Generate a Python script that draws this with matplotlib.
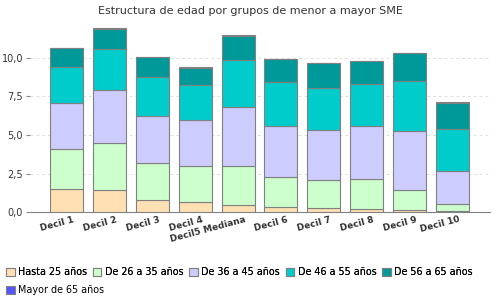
import matplotlib
matplotlib.use("Agg")
import matplotlib.pyplot as plt
import numpy as np
from matplotlib.transforms import ScaledTranslation

categories = ["Decil 1", "Decil 2", "Decil 3", "Decil 4", "Decil5 Mediana",
              "Decil 6", "Decil 7", "Decil 8", "Decil 9", "Decil 10"]
series_names = ["Hasta 25 años", "De 26 a 35 años", "De 36 a 45 años",
                "De 46 a 55 años", "De 56 a 65 años", "Mayor de 65 años"]
hasta25 = [1.50, 1.43, 0.79, 0.66, 0.46, 0.34, 0.27, 0.21, 0.14, 0.08]
de26_35 = [2.62, 3.03, 2.38, 2.32, 2.52, 1.93, 1.81, 1.93, 1.29, 0.45]
de36_45 = [2.92, 3.44, 3.03, 2.97, 3.81, 3.29, 3.22, 3.42, 3.81, 2.13]
de46_55 = [2.33, 2.63, 2.52, 2.25, 3.03, 2.84, 2.71, 2.71, 3.24, 2.71]
de56_65 = [1.23, 1.29, 1.29, 1.10, 1.57, 1.48, 1.64, 1.48, 1.79, 1.71]
mayor65 = [0.00, 0.07, 0.00, 0.06, 0.07, 0.00, 0.00, 0.00, 0.00, 0.06]
yticks = [0, 2.5, 5.0, 7.5, 10.0]
ytick_labels = ["0,0", "2,5", "5,0", "7,5", "10,0"]

colors = ["#FFE0B3", "#CCFFCC", "#CCCCFF", "#00CCCC", "#009999", "#5555FF"]
series = [hasta25, de26_35, de36_45, de46_55, de56_65, mayor65]

fig = plt.figure(figsize=(5, 3), dpi=100)
ax = fig.add_axes([0.06, 0.292, 0.92, 0.635])

x = np.arange(len(categories))
bottom = np.zeros(len(categories))
for name, vals, c in zip(series_names, series, colors):
    ax.bar(x, vals, width=0.77, bottom=bottom, color=c, edgecolor="#808080",
           linewidth=0.8, label=name, zorder=3)
    bottom += np.array(vals)

ax.set_xlim(-0.86, 9.88)
ax.set_ylim(0, 12.3)
ax.set_yticks(yticks)
ax.set_yticklabels(ytick_labels, fontsize=7, color="#333333")
ax.yaxis.grid(True, linestyle=(0, (3, 3)), color="#e0e0e0", linewidth=0.7, zorder=0)
ax.tick_params(axis="y", length=3, color="#888888", pad=2)
ax.tick_params(axis="x", length=0, pad=2)
ax.set_xticks(x)
ax.set_xticklabels(categories, rotation=15, ha="right", va="top",
                   rotation_mode="anchor", fontsize=6.5, fontweight="bold",
                   color="#333333")
for lbl in ax.get_xticklabels():
    lbl.set_transform(lbl.get_transform() + ScaledTranslation(0.06, 0, fig.dpi_scale_trans))

for s in ["top", "right", "left"]:
    ax.spines[s].set_visible(False)
ax.spines["bottom"].set_color("#808080")

fig.suptitle("Estructura de edad por grupos de menor a mayor SME", fontsize=8,
             y=0.98, color="#333333")

handles, labels = ax.get_legend_handles_labels()
leg_kw = dict(frameon=False, fontsize=6.9, handlelength=0.9, handleheight=0.9,
              handletextpad=0.35, columnspacing=0.6, borderaxespad=0.0,
              borderpad=0.0)
leg1 = fig.legend(handles[:5], labels[:5], loc="center left",
                  bbox_to_anchor=(0.012, 0.093), ncol=5, **leg_kw)
fig.add_artist(leg1)
fig.legend(handles[5:], labels[5:], loc="center left",
           bbox_to_anchor=(0.012, 0.033), ncol=1, **leg_kw)

fig.savefig("out.png", dpi=100)
